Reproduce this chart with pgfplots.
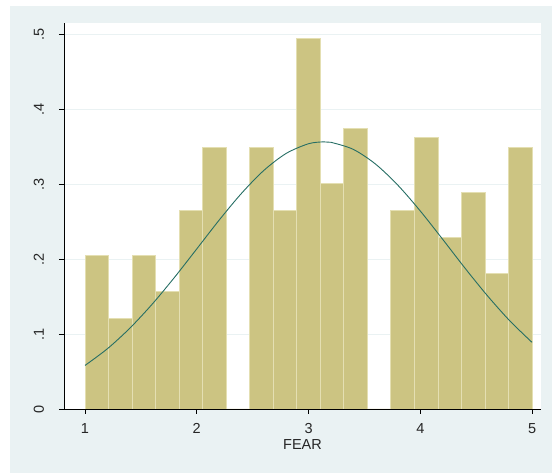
\documentclass[border=0pt]{standalone}
\usepackage{pgfplots}
\pgfplotsset{compat=1.18}
\usepackage{fontspec}
\setmainfont{Liberation Sans}
\definecolor{panel}{RGB}{234,242,243}
\definecolor{gridc}{RGB}{234,242,243}
\definecolor{khaki}{RGB}{204,196,130}
\definecolor{khakiline}{RGB}{228,223,178}
\definecolor{teal}{RGB}{38,110,100}
\begin{document}
\begin{tikzpicture}[x=1bp,y=1bp]
\fill[white] (-64,-64) rectangle (488,409);
\fill[panel] (-54,-64) rectangle (488,403);
\begin{axis}[
  at={(0,0)}, anchor=south west,
  scale only axis, width=477bp, height=386bp,
  xmin=0.812, xmax=5.08, ymin=0, ymax=0.5147,
  axis background/.style={fill=white},
  axis lines*=left, axis line style={-, black, line width=0.8pt},
  tick align=outside, major tick length=5bp,
  tick style={black, line width=0.8pt},
  xtick={1,2,3,4,5},
  ytick={0,0.1,0.2,0.3,0.4,0.5},
  yticklabels={0,.1,.2,.3,.4,.5},
  yticklabel style={rotate=90, anchor=base, inner sep=0pt},
  yticklabel shift=15bp,
  xticklabel style={anchor=base, inner sep=0pt},
  xticklabel shift=19.5bp,
  ymajorgrids, grid style={gridc, line width=1pt},
  /pgf/number format/assume math mode=true,
  ticklabel style={font=\fontsize{14.5bp}{16bp}\selectfont, text=black!85},
  xlabel={FEAR},
  xlabel style={font=\fontsize{14.5bp}{16bp}\selectfont, text=black!85,
    at={(axis description cs:0.5,0)}, anchor=base, inner sep=0pt, yshift=-40.5bp},
]
\addplot[ybar interval, fill=khaki, draw=khakiline, line width=0.8pt] coordinates {
(1.0000,0.205) (1.2105,0.1205) (1.4211,0.205) (1.6316,0.157) (1.8421,0.265)
(2.0526,0.349) (2.2632,0) (2.4737,0.349) (2.6842,0.265) (2.8947,0.494)
(3.1053,0.301) (3.3158,0.374) (3.5263,0) (3.7368,0.265) (3.9474,0.362)
(4.1579,0.229) (4.3684,0.289) (4.5789,0.181) (4.7895,0.349) (5.0000,0.349)
};
\addplot[teal, line width=0.9pt, smooth] coordinates {
(1.0,0.0581) (1.2,0.0803) (1.4,0.1076) (1.6,0.1396) (1.8,0.1754)
(2.0,0.2135) (2.2,0.2518) (2.4,0.2875) (2.6,0.3181) (2.8,0.3408)
(3.0,0.3537) (3.133,0.3562) (3.2,0.3556) (3.4,0.3462) (3.6,0.3265)
(3.8,0.2983) (4.0,0.2640) (4.2,0.2263) (4.4,0.1878) (4.6,0.1511)
(4.8,0.1177) (5.0,0.0888)
};
\end{axis}
\end{tikzpicture}
\end{document}
